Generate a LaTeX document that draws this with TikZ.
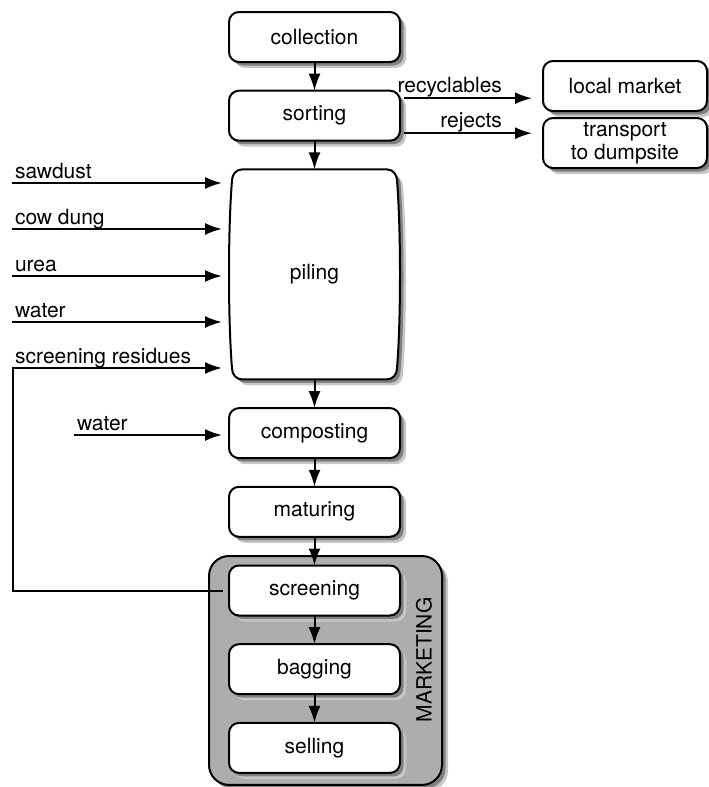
\documentclass[tikz,border=0pt]{standalone}
\usepackage{fontspec}
\setmainfont{TeX Gyre Heros}
\usetikzlibrary{positioning,arrows.meta,backgrounds}

\definecolor{groupgray}{gray}{0.68}

\tikzset{
    shadowfar/.style={fill=black!22,rounded corners=10pt},
    shadownear/.style={fill=black!50,rounded corners=10pt},
    stepbox/.style={draw,fill=white,rounded corners=10pt,line width=2pt,
        minimum width=171pt,minimum height=50pt,inner sep=2pt,outer sep=0pt,
        align=center,font=\fontsize{21}{23}\selectfont},
    pilebox/.style={minimum width=171pt,minimum height=210pt,outer sep=0pt,
        font=\fontsize{21}{23}\selectfont},
    groupbox/.style={draw,fill=groupgray,rounded corners=20pt,line width=2pt},
    flow/.style={->,line width=2pt},
    inlabel/.style={anchor=base west,inner sep=0pt,xshift=2pt,yshift=5pt,
        font=\fontsize{21}{23}\selectfont},
    outlabel/.style={anchor=base east,inner sep=0pt,yshift=6pt,
        font=\fontsize{21}{23}\selectfont},
}

\newcommand{\pileoutline}{(13,0) -- (158,0) to[out=0,in=90] (168,-11)
    .. controls (172,-60) and (172,-150) .. (168,-199)
    to[out=-90,in=0] (158,-210) -- (13,-210) to[out=180,in=-90] (3,-199)
    .. controls (-1,-150) and (-1,-60) .. (3,-11)
    to[out=90,in=180] (13,0) -- cycle}

\begin{document}
\begin{tikzpicture}[>={Latex[length=17pt,width=12pt]},x=1pt,y=1pt]
    \useasboundingbox (0,0) rectangle (709,-787);

    % main line
    \node[stepbox] (collection) at (314.5,-37) {collection};
    \node[stepbox,below=28.7pt of collection] (sorting) {sorting};
    \node[pilebox,below=28.7pt of sorting] (piling) {piling};
    \node[stepbox,below=28.7pt of piling] (composting) {composting};
    \node[stepbox,below=28.7pt of composting] (maturing) {maturing};
    \node[stepbox,below=28.7pt of maturing] (screening) {screening};
    \node[stepbox,below=28.7pt of screening] (bagging) {bagging};
    \node[stepbox,below=28.7pt of bagging] (selling) {selling};

    % outlets
    \node[stepbox,minimum width=164pt] (market) at (625,-86) {local market};
    \node[stepbox,minimum width=164pt,below=7pt of market] (dumpsite) {transport\\to dumpsite};

    \begin{scope}[on background layer]
        % marketing group
        \fill[shadowfar,rounded corners=20pt] ([shift={(-14pt,3.5pt)}]screening.north west)
            rectangle ([shift={(48pt,-18pt)}]selling.south east);
        \fill[shadownear,rounded corners=20pt] ([shift={(-16.5pt,6pt)}]screening.north west)
            rectangle ([shift={(45.5pt,-15.5pt)}]selling.south east);
        \draw[groupbox] ([shift={(-20pt,9.5pt)}]screening.north west)
            rectangle ([shift={(42pt,-12pt)}]selling.south east);

        % shadows of the boxes
        \foreach \n in {collection,sorting,composting,maturing,screening,
            bagging,selling,market,dumpsite}{
            \fill[shadowfar] ([shift={(6pt,-6pt)}]\n.south west)
                rectangle ([shift={(6pt,-6pt)}]\n.north east);
            \fill[shadownear] ([shift={(3.5pt,-3.5pt)}]\n.south west)
                rectangle ([shift={(3.5pt,-3.5pt)}]\n.north east);
        }

        % piling outline
        \begin{scope}[shift={(piling.north west)}]
            \fill[black!22,shift={(6,-6)}] \pileoutline;
            \fill[black!50,shift={(3.5,-3.5)}] \pileoutline;
            \path[draw,fill=white,line width=2pt] \pileoutline;
        \end{scope}
    \end{scope}

    \foreach \a/\b in {collection/sorting,sorting/piling,piling/composting,
        composting/maturing,maturing/screening,screening/bagging,bagging/selling}{
        \draw[flow] (\a) -- (\b);
    }

    \draw[flow,shorten <=4pt,shorten >=11pt] ([yshift=17.5pt]sorting.east)
        -- ([yshift=17.5pt]sorting.east -| market.west) node[pos=.72,outlabel] {recyclables};
    \draw[flow,shorten <=4pt,shorten >=11pt] ([yshift=-17.5pt]sorting.east)
        -- ([yshift=-17.5pt]sorting.east -| market.west) node[pos=.72,outlabel] {rejects};

    % inputs
    \foreach \y/\txt in {183/sawdust,229/cow dung,276/urea,322/water}{
        \coordinate (src) at (12,-\y);
        \draw[flow,shorten >=7pt] (src) -- (src -| piling.west) node[pos=0,inlabel] {\txt};
    }

    \coordinate (wet) at (74,-435);
    \draw[flow,shorten >=7pt] (wet) -- (wet -| composting.west) node[pos=0,inlabel] {water};

    % residues back to piling
    \coordinate (back) at (13,-368);
    \draw[flow,shorten <=6pt,shorten >=7pt] (screening.west) -| (back) -- (back -| piling.west);
    \node[inlabel] (residues) at (back) {screening residues};

    \node[rotate=90,font=\fontsize{21}{23}\selectfont] (marketing) at (424,-660) {MARKETING};
\end{tikzpicture}
\end{document}
